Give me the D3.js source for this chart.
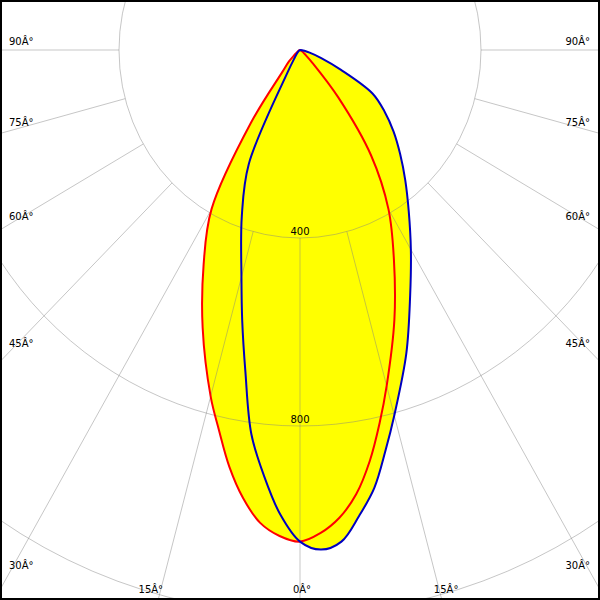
<!DOCTYPE html>
<html><head><meta charset="utf-8">
<script src="https://cdn.jsdelivr.net/npm/d3@7"></script>
<style>body{margin:0;background:#fff}svg{display:block}</style>
</head><body><svg id="c" width="600" height="600"></svg>
<script>
// Gamma angles (deg from nadir) and luminous intensity values (cd)
const angles    = [0, 2.5, 5, 7.5, 10, 12.5, 15, 20, 25, 30, 35, 40, 45, 50, 55, 60, 65, 70, 75, 80, 85, 90];
const redLeft   = [1046, 1035, 1010, 962, 900, 828, 763, 629, 504, 391, 189, 60, 35, 15, 8, 5, 3, 2, 1, 1, 0, 0];
const redRight  = [1046, 1029, 999, 953, 888, 813, 740, 610, 491, 391, 274, 131, 40, 15, 8, 5, 3, 2, 1, 1, 0, 0];
const blueLeft  = [1046, 990, 910, 824, 695, 590, 500, 376, 268, 55, 22, 12, 8, 5, 3, 2, 1, 1, 0, 0, 0, 0];
const blueRight = [1046, 1064, 1050, 1000, 946, 873, 805, 687, 576, 490, 419, 362, 313, 270, 228, 185, 100, 50, 22, 10, 5, 0];
const rings  = [400, 800, 1200];
const spokes = [0, 15, 30, 45, 60, 75, 90];
const degSuffix = "\u00C2\u00B0";

const W = 600, H = 600, cx = 300, cy = 50;
const svg = d3.select("#c");
const rX = d3.scaleLinear().domain([0, 400]).range([0, 181]);
const rY = d3.scaleLinear().domain([0, 400]).range([0, 188]);
const rad = d => d * Math.PI / 180;
const pt = (g, I, side) => [cx + side * rX(I) * Math.sin(rad(g)), cy + rY(I) * Math.cos(rad(g))];

function curvePts(left, right) {
  const pts = [];
  for (let i = angles.length - 1; i >= 0; i--) pts.push(pt(angles[i], left[i], -1));
  for (let i = 1; i < angles.length; i++) pts.push(pt(angles[i], right[i], 1));
  return pts;
}
const line = d3.line().curve(d3.curveCatmullRom.alpha(0.5));
const redPts = curvePts(redLeft, redRight);
const bluePts = curvePts(blueLeft, blueRight);

svg.append("rect").attr("width", W).attr("height", H).attr("fill", "#fff");

// fills
svg.append("path").attr("d", line(redPts) + "Z").attr("fill", "#ffff00");
svg.append("path").attr("d", line(bluePts) + "Z").attr("fill", "#ffff00");

// grid
const grid = svg.append("g").attr("stroke", "#808080").attr("stroke-opacity", 0.45).attr("fill", "none");
rings.forEach(v => {
  grid.append("ellipse").attr("cx", cx).attr("cy", cy).attr("rx", rX(v)).attr("ry", rY(v));
});
spokes.forEach(g => {
  [-1, 1].forEach(side => {
    if (g === 0 && side === 1) return;
    const a = pt(g, rings[0], side), b = pt(g, 4000, side);
    grid.append("line").attr("x1", a[0]).attr("y1", a[1]).attr("x2", b[0]).attr("y2", b[1]);
  });
});

// labels
const font = "DejaVu Sans";
rings.forEach(v => {
  const y = cy + rY(v) - 3;
  if (y < H - 10) {
    svg.append("text").attr("x", cx).attr("y", y).attr("text-anchor", "middle")
      .attr("font-family", font).attr("font-size", 10).attr("fill", "#000").text(v);
  }
});
spokes.forEach(g => {
  const sides = g === 0 ? [0] : [-1, 1];
  sides.forEach(side => {
    let x, y, anchor;
    if (g >= 30) {
      const xe = side < 0 ? 9 : 591;
      const I = rX.invert(Math.abs(cx - xe) / Math.sin(rad(g)));
      y = cy + rY(I) * Math.cos(rad(g)) - 5;
      x = side < 0 ? 9 : 590;
      anchor = side < 0 ? "start" : "end";
    } else {
      const I = rY.invert((H - 2 - cy) / Math.cos(rad(g)));
      const lx = cx + side * rX(I) * Math.sin(rad(g));
      y = H - 7;
      if (side === 0) { x = lx + 2; anchor = "middle"; }
      else if (side < 0) { x = lx + 4.5; anchor = "end"; }
      else { x = lx - 7.5; anchor = "start"; }
    }
    svg.append("text").attr("x", x).attr("y", y).attr("text-anchor", anchor)
      .attr("font-family", font).attr("font-size", 10).attr("fill", "#000").text(g + degSuffix);
  });
});

// strokes
svg.append("path").attr("d", line(redPts)).attr("fill", "none").attr("stroke", "#ff0000").attr("stroke-width", 2);
svg.append("path").attr("d", line(bluePts)).attr("fill", "none").attr("stroke", "#0000c0").attr("stroke-width", 2);

// border
svg.append("rect").attr("x", 1).attr("y", 1).attr("width", W - 2).attr("height", H - 2)
  .attr("fill", "none").attr("stroke", "#000").attr("stroke-width", 2);
</script></body></html>
